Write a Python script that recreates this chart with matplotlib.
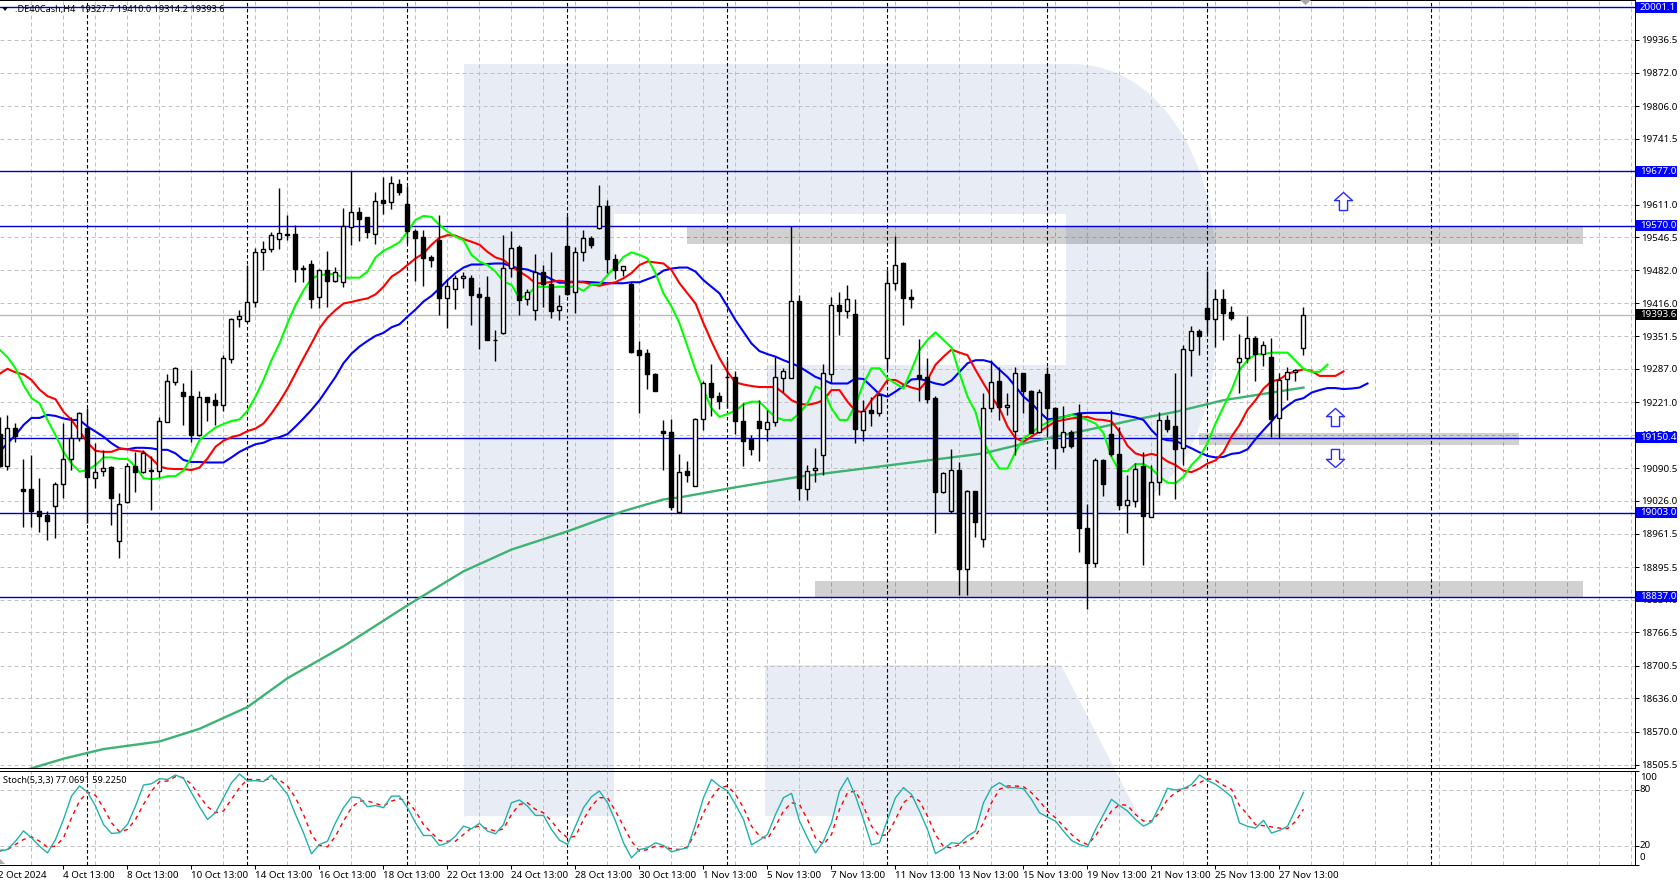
import numpy as np
import matplotlib
matplotlib.use("Agg")
import matplotlib.pyplot as plt
from matplotlib.patches import PathPatch, Rectangle, Polygon
from matplotlib.path import Path

plt.rcParams["font.family"] = ["Noto Sans", "DejaVu Sans"]

# DE40Cash H4 candles, first bar sits just off the left edge
opens = [19158,19096,19171,19049,19049,19006,18998,19017,19059,19108,19150,19171,19072,19086,19093,18947,19024,19095,19084,19087,
         19086,19182,19261,19241,19234,19156,19231,19225,19216,19306,19385,19382,19418,19517,19523,19543,19554,19553,19486,19494,
         19428,19482,19461,19459,19568,19596,19586,19554,19620,19617,19652,19612,19560,19547,19508,19541,19426,19445,19466,19466,
         19435,19429,19344,19357,19487,19527,19424,19404,19478,19454,19404,19530,19438,19517,19545,19566,19608,19504,19483,19454,
         19324,19318,19276,19165,19162,19004,19085,19056,19187,19259,19233,19271,19271,19184,19149,19184,19169,19181,19268,19268,
         19420,19050,19088,19116,19277,19414,19402,19395,19167,19206,19200,19308,19456,19495,19429,19275,19270,19229,19044,19007,
         19087,18891,19046,18950,19209,19263,19211,19164,19278,19244,19162,19276,19209,19132,19163,19199,18972,18904,19107,19158,
         19119,19019,19025,19095,18995,19064,19186,19174,19130,19325,19361,19407,19386,19425,19399,19300,19308,19348,19317,19310,
         19189,19266,19280,19327.7]
closes = [19096,19171,19155,19046,19007,18997,18987,19059,19108,19150,19199,19074,19084,19092,19032,19020,19095,19084,19121,19086,
          19183,19262,19288,19233,19156,19231,19221,19215,19308,19385,19391,19418,19517,19524,19552,19556,19552,19485,19485,19425,
          19483,19461,19479,19569,19596,19583,19558,19619,19615,19653,19637,19560,19546,19506,19501,19426,19450,19466,19470,19433,
          19428,19344,19343,19487,19525,19422,19438,19478,19454,19402,19412,19435,19517,19545,19532,19608,19503,19483,19491,19320,
          19315,19277,19244,19160,19014,19083,19077,19188,19258,19231,19224,19270,19183,19145,19129,19170,19181,19270,19282,19420,
          19051,19086,19092,19278,19414,19402,19424,19168,19204,19200,19235,19456,19493,19427,19424,19268,19228,19044,19081,19087,
          18892,19045,18985,19209,19260,19212,19215,19278,19244,19160,19242,19210,19130,19163,19135,18972,18904,19107,19060,19119,
          19018,19027,19090,18997,19063,19186,19169,19129,19327,19361,19352,19386,19425,19398,19388,19308,19347,19316,19335,19188,
          19265,19280,19284,19393.6]
highs = [19192,19196,19179,19109,19117,19071,19006,19064,19179,19192,19202,19209,19141,19127,19095,19041,19100,19123,19127,19115,
         19192,19277,19291,19258,19285,19243,19231,19240,19314,19388,19403,19493,19525,19539,19558,19645,19591,19572,19492,19502,
         19485,19520,19489,19604,19677,19607,19587,19636,19666,19668,19662,19648,19564,19561,19512,19591,19464,19472,19479,19472,
         19448,19470,19364,19551,19559,19532,19444,19514,19492,19517,19433,19589,19528,19562,19549,19650,19620,19513,19491,19458,
         19341,19327,19278,19186,19187,19119,19105,19189,19262,19296,19241,19304,19283,19219,19156,19225,19206,19311,19288,19570,
         19433,19097,19130,19296,19429,19438,19452,19425,19225,19231,19240,19482,19549,19497,19445,19345,19308,19233,19084,19128,
         19102,19048,19046,19240,19304,19291,19240,19290,19279,19245,19247,19291,19211,19214,19166,19218,19020,19110,19108,19206,
         19173,19077,19100,19123,19098,19201,19196,19278,19335,19372,19365,19480,19445,19444,19411,19356,19391,19352,19342,19347,
         19278,19290,19287,19410]
lows = [19094,19087,19143,18975,18975,18965,18949,18952,19031,19087,19145,18982,19051,19075,18978,18913,19022,19044,19082,19008,
        19073,19182,19255,19176,19143,19154,19184,19176,19204,19299,19370,19382,19410,19482,19518,19524,19541,19459,19459,19408,
        19408,19410,19459,19449,19531,19540,19546,19533,19593,19602,19630,19536,19461,19451,19489,19393,19368,19405,19446,19374,
        19327,19343,19302,19356,19468,19393,19413,19383,19410,19388,19383,19433,19398,19499,19526,19564,19476,19464,19471,19319,
        19200,19247,19243,19087,19008,19003,19064,19055,19166,19193,19207,19209,19158,19095,19117,19104,19145,19174,19242,19268,
        19028,19028,19064,19077,19258,19354,19388,19141,19145,19175,19194,19287,19443,19374,19408,19223,19219,18962,19042,19002,
        18840,18840,18955,18936,19202,19185,19196,19117,19199,19160,19160,19156,19090,19123,19130,18926,18813,18896,19036,19114,
        19008,18962,19015,18900,18995,19038,19163,19030,19097,19273,19314,19358,19331,19343,19383,19240,19298,19263,19293,19153,
        19150,19225,19263,19314.2]

# alligator style averages, same start bar, they run a few bars past the last candle
ma_green = [19325,19310,19288,19255,19229,19219,19186,19156,19123,19100,19084,19087,19097,19112,19112,19109,19109,19094,19071,19069,
            19071,19075,19075,19086,19113,19146,19159,19171,19178,19184,19187,19204,19232,19265,19304,19337,19377,19413,19442,19465,
            19472,19474,19474,19467,19467,19467,19479,19507,19520,19528,19537,19558,19581,19589,19587,19571,19558,19548,19541,19512,
            19499,19492,19479,19459,19453,19426,19433,19449,19449,19448,19449,19449,19449,19441,19454,19454,19472,19489,19508,19517,
            19512,19505,19476,19436,19410,19377,19331,19285,19245,19209,19192,19198,19204,19217,19222,19222,19206,19191,19186,19186,
            19199,19219,19252,19245,19209,19186,19186,19216,19258,19288,19288,19268,19258,19248,19285,19324,19344,19359,19344,19329,
            19278,19232,19202,19143,19113,19090,19090,19123,19150,19160,19173,19181,19189,19192,19196,19192,19186,19179,19160,19113,
            19085,19085,19099,19099,19090,19074,19062,19061,19074,19097,19113,19140,19179,19212,19245,19285,19304,19316,19316,19319,
            19319,19319,19303,19287,19281,19281,19295]
ma_red = [19277,19287,19280,19276,19265,19246,19233,19227,19202,19186,19164,19141,19125,19123,19123,19129,19128,19125,19123,19110,
          19094,19090,19089,19089,19087,19092,19110,19133,19145,19152,19156,19164,19169,19179,19199,19222,19248,19278,19308,19337,
          19367,19388,19403,19416,19419,19423,19426,19434,19449,19469,19479,19492,19505,19515,19532,19546,19551,19550,19543,19538,
          19532,19518,19507,19502,19489,19479,19469,19456,19456,19459,19461,19459,19459,19458,19454,19451,19455,19458,19466,19476,
          19492,19499,19497,19495,19482,19456,19436,19416,19377,19341,19308,19281,19260,19256,19253,19251,19251,19251,19239,19225,
          19218,19216,19219,19225,19245,19245,19222,19204,19201,19225,19242,19265,19265,19256,19250,19246,19265,19295,19311,19325,
          19319,19314,19285,19258,19232,19209,19173,19150,19143,19153,19163,19173,19183,19186,19189,19191,19192,19187,19186,19183,
          19163,19135,19120,19115,19119,19115,19104,19097,19086,19083,19090,19100,19106,19123,19153,19176,19206,19225,19248,19262,
          19266,19277,19282,19286,19283,19273,19273,19273,19282]
ma_blue = [19123,19140,19156,19176,19190,19190,19196,19194,19189,19186,19186,19173,19163,19153,19140,19130,19128,19131,19131,19130,
           19127,19127,19120,19107,19103,19103,19102,19102,19102,19112,19123,19131,19138,19141,19148,19152,19158,19173,19189,19206,
           19225,19248,19271,19298,19317,19331,19342,19352,19358,19369,19375,19390,19404,19420,19431,19446,19462,19476,19487,19493,
           19493,19494,19495,19495,19489,19485,19483,19477,19472,19464,19457,19457,19459,19459,19458,19457,19456,19456,19456,19458,
           19458,19464,19470,19481,19485,19487,19487,19479,19462,19449,19436,19410,19383,19360,19337,19322,19316,19311,19304,19298,
           19291,19281,19271,19265,19258,19258,19258,19268,19267,19252,19237,19232,19242,19253,19266,19267,19263,19258,19255,19264,
           19281,19298,19304,19304,19300,19285,19271,19252,19232,19219,19202,19187,19189,19192,19196,19199,19200,19200,19200,19200,
           19197,19194,19191,19186,19166,19150,19146,19145,19137,19130,19122,19115,19112,19113,19119,19121,19128,19148,19166,
           19183,19202,19214,19225,19229,19240,19245,19249,19249,19247,19248,19250,19258]
ma200_bars = [-1,3,7,12,19,24,30,35,42,50,57,63,70,77,82,84,91,99,109,116,122,128,137,141,146,152,158,162]
ma200_vals = [18480,18498,18517,18536,18551,18576,18619,18676,18739,18820,18887,18930,18966,19006,19029,19033,19053,19074,19094,19108,
              19120,19143,19173,19187,19202,19225,19240,19250]

# stochastic, same start bar as the candles
stoch_main = [14.3,16.1,25,36,28.6,19.7,12.5,26.8,48.2,73.2,84,77.5,62.5,42.9,33.3,34,42.9,62.5,85,86.4,
              91.8,91,95.7,92.2,76.8,61.8,48.2,55.4,71.5,87.5,96.8,89.3,89.7,88.6,95.7,85.7,75,53.6,34,11.5,
              21.5,25,44.7,60.8,72.2,71.5,61.8,63.2,60.8,73.2,73.2,60.8,44.7,31.1,31.1,20.4,23.3,30.4,41.1,38.3,
              44,35.8,32.9,42.9,66.1,69,62.5,52.5,52.5,37.5,26.1,21.5,41.1,60.8,72.5,78.6,66.1,46.5,23.3,7.2,
              16.1,17.9,23.3,20.4,13.6,16.1,17.9,42.9,71.5,91,84,78.6,64.3,48.2,21.1,26.1,32.2,53.6,71.5,76.1,
              46.5,28.6,12.5,25,44.7,78.6,92.9,73.2,48.2,21.1,23.3,48.2,71.5,82.2,75,57.2,37.5,11.8,16.8,23.3,
              22.5,30.4,35.8,66.1,82.2,87.5,82.2,82.2,81.1,69.7,55.4,50.8,46.5,35.8,25.8,21.5,19,37.5,53.6,69.7,
              63.2,57.2,48.2,41.1,45.4,62.5,81.5,79.7,81.1,85.7,95.7,90,85.7,79.6,72.5,44.5,40.9,39,47.3,33.7,
              36.6,40.9,58.8,77.07]
stoch_signal = [15,16.1,21.5,26.8,29.7,25,18.6,19.7,28.6,50,67.9,77.5,74,60.8,44.7,35,37.5,48.2,64.3,78.6,
                88.6,89.3,94,92.9,85.7,73.2,61.8,55.4,57.2,69.7,82.2,91,91,90,92.2,90.4,84,71.5,53.6,32.2,
                20.4,19,30.4,46.5,60.8,67.9,67.9,65.4,62.5,67.9,70.4,67.9,57.2,42.9,34,25.8,25,25,32.2,39.3,
                41.1,38.3,35.8,38.3,53.6,64.3,66.1,59,55.4,46.5,35.8,28.6,30.4,48.2,62.5,71.5,71.5,57.2,41.1,25,
                14.3,16.1,19.7,19,16.8,16.1,19,34,55.4,71.5,82.2,84,75,60.8,41.1,30.4,27.5,41.1,57.2,66.1,
                64.3,48.2,28.6,21.5,32.2,59,76.8,78.6,62.5,41.1,30.4,32.2,48.2,66.1,73.2,67.9,51.8,32.2,19,17.9,
                21.5,25,30.4,44.7,66.1,80.4,84,84,83.2,76.8,67.9,57.2,50,41.1,32.2,25,21.5,30.4,44.7,57.2,
                64.3,63.2,53.6,46.5,46.5,55.4,69.7,76.8,81.1,83.2,87.5,91.8,90,84.7,80.4,63,53.4,42.7,41.6,40.2,
                39,38.4,46,59.2]

level_prices = [20001.1, 19677.0, 19570.0, 19150.4, 19003.0, 18837.0]
last_price = 19393.6
price_ticks = [19936.5,19872.0,19806.0,19741.5,19677.0,19611.0,19546.5,19482.0,19416.0,19351.5,19287.0,19221.0,19156.5,
               19090.5,19026.0,18961.5,18895.5,18831.0,18766.5,18700.5,18636.0,18570.0,18505.5]
zone_bars = [(85, 197), (149, 189), (101, 197)]
zone_prices = [(19533, 19570), (19136, 19160), (18837, 18868)]
separator_bars = [10, 30, 50, 70, 90, 110, 130, 150, 178]
time_labels = ["4 Oct 13:00","8 Oct 13:00","10 Oct 13:00","14 Oct 13:00","16 Oct 13:00","18 Oct 13:00","22 Oct 13:00",
               "24 Oct 13:00","28 Oct 13:00","30 Oct 13:00","1 Nov 13:00","5 Nov 13:00","7 Nov 13:00","11 Nov 13:00",
               "13 Nov 13:00","15 Nov 13:00","19 Nov 13:00","21 Nov 13:00","25 Nov 13:00","27 Nov 13:00"]
arrow_up_bars = [167, 166]
arrow_up_prices = [19618, 19192]
arrow_down_bars = [166]
arrow_down_prices = [19111]

W, H = 1680, 882
PX = 0.72  # one pixel in points at dpi 100
GRID = "#c0c0c0"
LEVEL = "#0000cd"
FS = 7.05


def rect(left, top, right, bottom):
    return [left / W, 1 - bottom / H, (right - left) / W, (bottom - top) / H]


def bar_of(px):
    return (px - 7.5) / 8


def y_of(price):
    return (20015.4 - price) / 1.975


fig = plt.figure(figsize=(W / 100, H / 100), dpi=100)

# watermark behind everything, in pixels
back = fig.add_axes([0, 0, 1, 1], zorder=0)
back.set_xlim(0, W)
back.set_ylim(H, 0)
back.axis("off")
verts = [(464, 64), (1071, 64), (1160, 64), (1216, 160), (1216, 270), (1216, 330), (1216, 430), (1170, 513), (1097, 513),
         (767, 513), (767, 365), (1066, 365), (1066, 214), (614, 214), (614, 816), (464, 816), (464, 64)]
codes = [Path.MOVETO, Path.LINETO, Path.CURVE4, Path.CURVE4, Path.CURVE4, Path.LINETO, Path.CURVE4, Path.CURVE4, Path.CURVE4,
         Path.LINETO, Path.LINETO, Path.LINETO, Path.LINETO, Path.LINETO, Path.LINETO, Path.LINETO, Path.CLOSEPOLY]
back.add_patch(PathPatch(Path(verts, codes), fc="#e8ecf4", ec="none"))
back.add_patch(Polygon([(765, 665), (1061, 665), (1139, 816), (765, 816)], fc="#e8ecf4", ec="none"))

ax = fig.add_axes(rect(0, 0, 1635, 768), zorder=1)
st = fig.add_axes(rect(0, 771, 1635, 864.6), zorder=1)
for a in (ax, st):
    a.patch.set_alpha(0)
    a.set_xlim(bar_of(0), bar_of(1635))
    for side in ("top", "right", "bottom"):
        a.spines[side].set_linewidth(PX)
    a.spines["left"].set_visible(False)
    a.set_xticks(np.arange(3, 204, 4), minor=True)
    a.grid(which="minor", axis="x", color=GRID, lw=PX, dashes=(4, 3), zorder=1)
    a.tick_params(which="minor", length=0)
    for b in separator_bars:
        a.axvline(b, color="black", lw=0.8, dashes=(3.2, 2.2), zorder=2)

ax.set_ylim(18498.6, 20015.4)
ax.set_xticks([])
ax.yaxis.tick_right()
ax.set_yticks(price_ticks)
ax.set_yticklabels([f"{p:.1f}" for p in price_ticks], fontsize=FS)
ax.tick_params(axis="y", length=3, width=PX, pad=1.2)
ax.grid(axis="y", color=GRID, lw=PX, dashes=(4, 3), zorder=1)
ax.axhline(20001.1 - 0.5, color=GRID, lw=PX, dashes=(4, 3), zorder=1)

for (b0, b1), (p0, p1) in zip(zone_bars, zone_prices):
    ax.add_patch(Rectangle((b0, p0), b1 - b0, p1 - p0, fc="black", ec="none", alpha=0.18, zorder=2))

ax.axhline(last_price, color="#b8b8b8", lw=1.0, zorder=2)
for p in level_prices:
    ax.axhline(p, color=LEVEL, lw=1.0, zorder=3)

# indicators, candles go over them
ax.plot(ma200_bars, ma200_vals, color="#3cb371", lw=1.7, zorder=4)
ax.plot(np.arange(len(ma_blue)) - 1, ma_blue, color="#0000ff", lw=1.5, zorder=4)
ax.plot(np.arange(len(ma_red)) - 1, ma_red, color="#ff0000", lw=1.5, zorder=4)
ax.plot(np.arange(len(ma_green)) - 1, ma_green, color="#00ff00", lw=1.5, zorder=4)

idx = np.arange(len(opens)) - 1
opens = np.array(opens)
closes = np.array(closes)
ax.vlines(idx, lows, highs, color="black", lw=1.0, zorder=5)
up = closes >= opens
ax.bar(idx[up], (closes - opens)[up], bottom=opens[up], width=0.5, fc="white", ec="black", lw=1.0, zorder=6)
ax.bar(idx[~up], (closes - opens)[~up], bottom=opens[~up], width=0.5, fc="black", ec="black", lw=1.0, zorder=6)

arrow = Path([(0, 1), (1, 0.1), (0.45, 0.1), (0.45, -1), (-0.45, -1), (-0.45, 0.1), (-1, 0.1), (0, 1)], closed=True)
arrow_dn = Path([(0, -1), (1, -0.1), (0.45, -0.1), (0.45, 1), (-0.45, 1), (-0.45, -0.1), (-1, -0.1), (0, -1)], closed=True)
ax.plot(arrow_up_bars, arrow_up_prices, ls="none", marker=arrow, ms=13, mfc="white", mec="#2a2aff", mew=1.0, zorder=7)
ax.plot(arrow_down_bars, arrow_down_prices, ls="none", marker=arrow_dn, ms=13, mfc="white", mec="#2a2aff", mew=1.0, zorder=7)

# stochastic panel
st.set_ylim(0, 100)
st.yaxis.tick_right()
st.set_yticks([0, 20, 80, 100])
st.set_yticklabels([])
st.tick_params(axis="y", length=3, width=PX)
st.grid(axis="y", color=GRID, lw=PX, dashes=(4, 3), zorder=1)
st.plot(np.arange(len(stoch_signal)) - 1, stoch_signal, color="#ff0000", lw=1.0, dashes=(3, 3), zorder=4)
st.plot(np.arange(len(stoch_main)) - 1, stoch_main, color="#20b2aa", lw=1.0, zorder=5)
tick_bars = np.arange(7, 7 + 8 * len(time_labels), 8)
st.set_xticks(tick_bars)
st.set_xticklabels([])
st.tick_params(axis="x", length=3, width=PX)
trans = st.get_xaxis_transform()
for b, lab in zip(tick_bars, time_labels):
    st.text(b, -0.115, lab, transform=trans, fontsize=FS, ha="left", va="center", clip_on=False)
st.text(-1.2, -0.115, "2 Oct 2024", transform=trans, fontsize=FS, ha="left", va="center", clip_on=False)

# labels on top, in pixels
top = fig.add_axes([0, 0, 1, 1], zorder=5)
top.patch.set_alpha(0)
top.set_xlim(0, W)
top.set_ylim(H, 0)
top.axis("off")
for p in level_prices:
    y = y_of(p)
    top.add_patch(Rectangle((1636, y - 5.5), 41, 11, fc="#0000ff", ec="none"))
    top.text(1640, y, f"{p:.1f}", color="white", fontsize=FS, va="center", ha="left")
y = y_of(last_price)
top.add_patch(Rectangle((1636, y - 5.5), 41, 11, fc="black", ec="none"))
top.text(1640, y, f"{last_price:.1f}", color="white", fontsize=FS, va="center", ha="left")
for lab, y in [("100", 777), ("80", 790), ("20", 846), ("0", 858)]:
    top.text(1640, y, lab, fontsize=FS, va="center", ha="left")
top.add_patch(Polygon([(2, 7), (8, 7), (5, 11)], fc="black", ec="none"))
top.text(15, 9.5, ".DE40Cash,H4  19327.7 19410.0 19314.2 19393.6", fontsize=6.6, va="center", ha="left")
top.text(3, 780, "Stoch(5,3,3) 77.0691 59.2250", fontsize=6.6, va="center", ha="left")
top.add_patch(Polygon([(1300, 0), (1311, 0), (1305.5, 5)], fc="#a8a8a8", ec="none"))
top.add_patch(Polygon([(0, 859), (0, 864), (5, 864)], fc="#a8a8a8", ec="none"))

fig.savefig("out.png", dpi=100)
